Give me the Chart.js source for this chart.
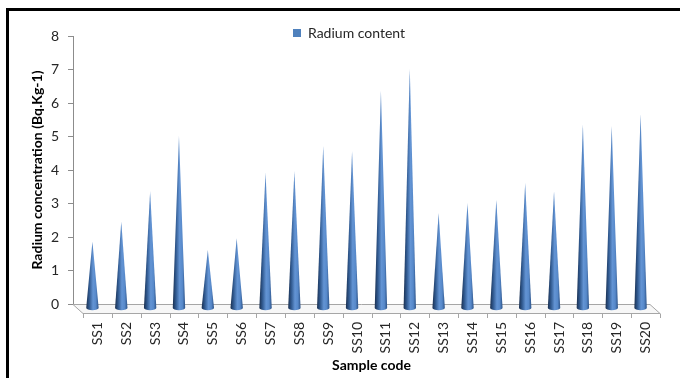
<!DOCTYPE html>
<html>
<head>
<meta charset="utf-8">
<script src="https://cdn.jsdelivr.net/npm/chart.js@4/dist/chart.umd.min.js"></script>
<style>
  html, body { margin: 0; padding: 0; background: #ffffff; }
  #wrap { width: 680px; height: 378px; }
</style>
</head>
<body>
<div id="wrap"><canvas id="c" width="680" height="378"></canvas></div>
<script>
// Sample codes and measured radium concentrations (Bq.Kg-1)
const sampleCodes = ['SS1','SS2','SS3','SS4','SS5','SS6','SS7','SS8','SS9','SS10',
                     'SS11','SS12','SS13','SS14','SS15','SS16','SS17','SS18','SS19','SS20'];
const radiumContent = [2.0, 2.6, 3.5, 5.15, 1.75, 2.1, 4.05, 4.1, 4.85, 4.7,
                       6.5, 7.15, 2.85, 3.15, 3.25, 3.75, 3.5, 5.5, 5.45, 5.8];
const yTicks = [0, 1, 2, 3, 4, 5, 6, 7, 8];

const FONT = 'Lato, "Liberation Sans", Arial, sans-serif';
const DEPTH_X = 10, DEPTH_Y = 9;   // floor depth (back edge -> front edge)

// White background and the black outline around the chart
const framePlugin = {
  id: 'frame',
  beforeDraw(chart) {
    const ctx = chart.ctx;
    ctx.save();
    ctx.fillStyle = '#ffffff';
    ctx.fillRect(0, 0, chart.width, chart.height);
    ctx.lineWidth = 3;
    ctx.strokeStyle = '#000000';
    ctx.strokeRect(7.5, 9.5, chart.width + 20, chart.height + 20);
    ctx.restore();
  }
};

// Places the legend above the plot and centres the x title under the floor's front edge
const placementPlugin = {
  id: 'placement',
  afterLayout(chart) {
    const lg = chart.legend;
    if (lg && lg.lineWidths) {
      const pad = lg.options.labels.padding;
      const boxLeft = (lg.left + pad + lg.right - lg.lineWidths[0]) / 2;
      const dx = 293 - boxLeft;
      const dy = 26 - (lg.top + pad);
      lg.left += dx; lg.right += dx;
      lg.top += dy; lg.bottom += dy;
    }
    const xs = chart.scales.x;
    xs.left += DEPTH_X;
    xs.right += DEPTH_X;
  }
};

// 3-D floor: a thin parallelogram under the cones with tick marks on its front edge
const floorPlugin = {
  id: 'floor',
  beforeDatasetsDraw(chart) {
    const {ctx, chartArea} = chart;
    const xs = chart.scales.x;
    const y0 = chart.scales.y.getPixelForValue(0);
    const L = chartArea.left, R = chartArea.right;
    ctx.save();
    ctx.beginPath();
    ctx.moveTo(L, y0 + 0.5);
    ctx.lineTo(R, y0 + 0.5);
    ctx.lineTo(R + DEPTH_X, y0 + DEPTH_Y + 0.5);
    ctx.lineTo(L + DEPTH_X, y0 + DEPTH_Y + 0.5);
    ctx.closePath();
    ctx.fillStyle = '#f7f7f7';
    ctx.fill();
    ctx.strokeStyle = '#a6a6a6';
    ctx.lineWidth = 1;
    ctx.stroke();
    // tick marks between categories on the front edge
    const n = xs.getLabels().length;
    const slot = (R - L) / n;
    ctx.beginPath();
    for (let i = 0; i <= n; i++) {
      const tx = Math.round(L + DEPTH_X + i * slot) + 0.5;
      ctx.moveTo(tx, y0 + DEPTH_Y + 0.5);
      ctx.lineTo(tx, y0 + DEPTH_Y + 5);
    }
    ctx.stroke();
    ctx.restore();
  }
};

// Bars are rendered as shaded cones standing at mid-depth of the floor
const conePlugin = {
  id: 'cones',
  beforeDatasetDraw(chart, args) {
    const ctx = chart.ctx;
    const meta = args.meta;
    const offX = DEPTH_X / 2, offY = DEPTH_Y / 2;
    ctx.save();
    meta.data.forEach(bar => {
      const p = bar.getProps(['x', 'y', 'base', 'width'], true);
      const cx = p.x + offX;
      const by = p.base + offY;
      const ty = p.y + offY;
      const r = p.width / 2;
      const ry = r * 0.35;
      const g = ctx.createLinearGradient(cx - r, 0, cx + r, 0);
      g.addColorStop(0.0, '#1a2f4f');
      g.addColorStop(0.25, '#30598f');
      g.addColorStop(0.55, '#6394d4');
      g.addColorStop(0.78, '#5789ca');
      g.addColorStop(1.0, '#2c5287');
      ctx.beginPath();
      ctx.moveTo(cx - r, by);
      ctx.lineTo(cx, ty);
      ctx.lineTo(cx + r, by);
      ctx.ellipse(cx, by, r, ry, 0, 0, Math.PI, false);
      ctx.closePath();
      ctx.fillStyle = g;
      ctx.fill();
    });
    ctx.restore();
    return false;
  }
};

new Chart(document.getElementById('c'), {
  type: 'bar',
  data: {
    labels: sampleCodes,
    datasets: [{
      label: 'Radium content',
      data: radiumContent,
      backgroundColor: '#4f81bd',
      borderWidth: 0,
      categoryPercentage: 1,
      barPercentage: 0.43
    }]
  },
  options: {
    responsive: false,
    devicePixelRatio: 1,
    animation: false,
    layout: { padding: { left: 0, right: 30, top: 2, bottom: 0 } },
    plugins: {
      tooltip: { enabled: false },
      legend: {
        position: 'top',
        labels: {
          boxWidth: 8, boxHeight: 8, padding: 10,
          color: '#262626',
          font: { family: FONT, size: 14 }
        }
      }
    },
    scales: {
      x: {
        afterFit(scale) { scale.height = 74; },
        grid: { display: false, drawTicks: false },
        border: { display: false },
        ticks: {
          minRotation: 90, maxRotation: 90, autoSkip: false,
          padding: 18, labelOffset: 10,
          color: '#262626',
          font: { family: FONT, size: 14 }
        },
        title: {
          display: true, text: 'Sample code', color: '#000000',
          font: { family: FONT, size: 14, weight: 'bold' },
          padding: { top: 0, bottom: 4 }
        }
      },
      y: {
        min: 0, max: 8,
        afterFit(scale) { scale.width = 73; },
        afterBuildTicks(scale) { scale.ticks = yTicks.map(v => ({ value: v })); },
        grid: { drawOnChartArea: false, drawTicks: true, tickLength: 5, color: '#8c8c8c' },
        border: { display: true, color: '#8c8c8c' },
        ticks: {
          padding: 9, color: '#262626',
          font: { family: FONT, size: 14 }
        },
        title: {
          display: true, text: 'Radium concentration (Bq.Kg-1)', color: '#000000',
          font: { family: FONT, size: 14, weight: 'bold' },
          padding: { top: 29, bottom: 0 }
        }
      }
    }
  },
  plugins: [framePlugin, placementPlugin, floorPlugin, conePlugin]
});
</script>
</body>
</html>
